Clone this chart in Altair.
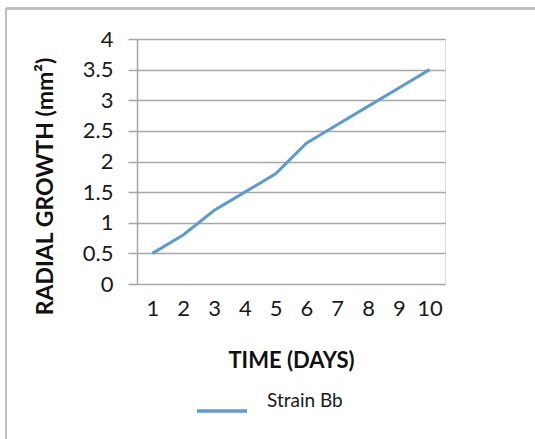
import altair as alt
import pandas as pd

days = ["1", "2", "3", "4", "5", "6", "7", "8", "9", "10"]
growth = [0.5, 0.8, 1.2, 1.5, 1.8, 2.3, 2.6, 2.9, 3.2, 3.5]
series = ["Strain Bb"] * len(days)

df = pd.DataFrame({"day": days, "growth": growth, "series": series})

FONT = "Lato"
GRID = "#a6a6a6"

line = alt.Chart(df).mark_line(strokeWidth=3).encode(
    x=alt.X("day:N", sort=days,
            scale=alt.Scale(paddingInner=0, paddingOuter=0),
            axis=alt.Axis(title="TIME (DAYS)", labelAngle=0, domain=False, ticks=False,
                          labelFontSize=22, labelPadding=24, labelColor="#1a1a1a",
                          labelBaseline="middle", labelFont=FONT, titleFont=FONT,
                          titleFontSize=22, titleFontWeight="bold", titleColor="#111111",
                          titleBaseline="middle", titleY=76, grid=False)),
    y=alt.Y("growth:Q", scale=alt.Scale(domain=[0, 4], nice=False),
            axis=alt.Axis(title="RADIAL GROWTH (mm²)", values=[0, 0.5, 1, 1.5, 2, 2.5, 3, 3.5, 4],
                          format="~g", grid=True, gridColor=GRID, gridWidth=1.5,
                          domain=True, domainColor=GRID, domainWidth=1.5,
                          ticks=True, tickSize=9, tickColor=GRID, tickWidth=1.5,
                          labelFontSize=22, labelPadding=15, labelColor="#1a1a1a",
                          labelFont=FONT, titleFont=FONT, titleFontSize=23,
                          titleFontWeight="bold", titleColor="#111111",
                          titleAngle=-90, titleBaseline="middle", titleAlign="center",
                          titleX=-92, titleY=147)),
    color=alt.Color("series:N", scale=alt.Scale(range=["#5b9bd5"]),
                    legend=alt.Legend(title=None, orient="none", legendX=58, legendY=345,
                                      symbolType="stroke", symbolSize=2500,
                                      symbolStrokeWidth=3.5, labelFontSize=19,
                                      labelFont=FONT, labelColor="#1a1a1a",
                                      labelFontWeight="normal",
                                      labelOffset=18, labelBaseline="bottom")),
)

top_border = alt.Chart(df).mark_rule(color="#bfbfbf", strokeWidth=1.5).encode(
    x=alt.value(-131), x2=alt.value(400), y=alt.value(-30.5))
left_border = alt.Chart(df).mark_rule(color="#bfbfbf", strokeWidth=1.5).encode(
    x=alt.value(-131), y=alt.value(-31), y2=alt.value(402))

chart = alt.layer(top_border, left_border, line).properties(
    width=308, height=245,
    autosize=alt.AutoSizeParams(type="none"),
    padding={"left": 137, "top": 39, "right": 90, "bottom": 155},
).configure_view(stroke=None).configure(background="white")

chart.save("out.html", embed_options={"renderer": "svg", "actions": False})
